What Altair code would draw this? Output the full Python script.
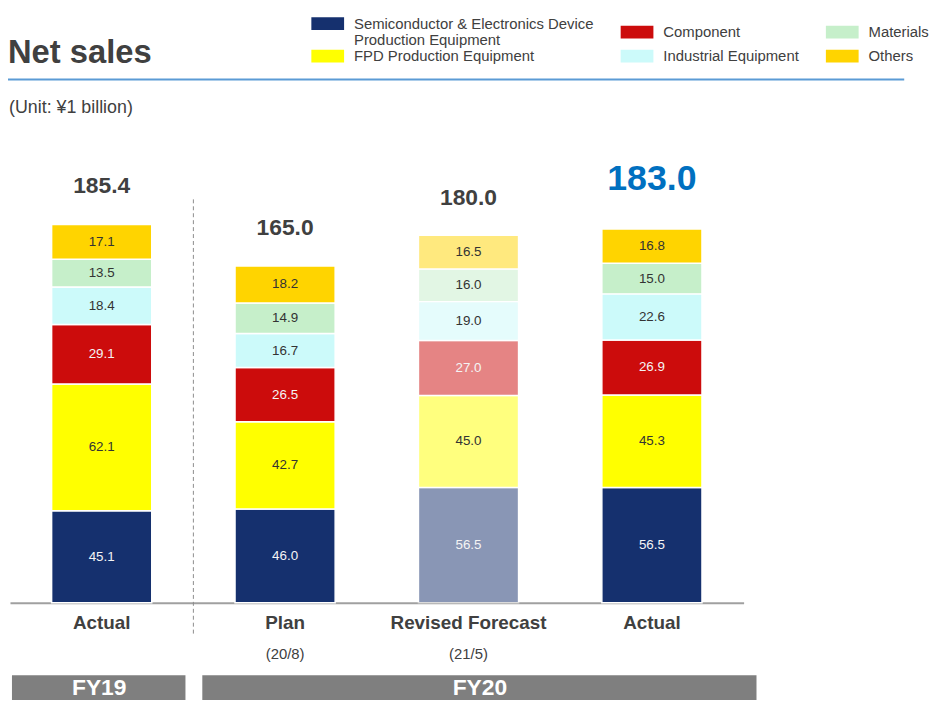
import altair as alt
import pandas as pd

# ---------------- data ----------------
bars = ["FY19 Actual", "FY20 Plan", "FY20 Revised Forecast", "FY20 Actual"]
series = [
    "Semiconductor & Electronics Device Production Equipment",
    "FPD Production Equipment",
    "Component",
    "Industrial Equipment",
    "Materials",
    "Others",
]
semi = [45.1, 46.0, 56.5, 56.5]
fpd = [62.1, 42.7, 45.0, 45.3]
component = [29.1, 26.5, 27.0, 26.9]
industrial = [18.4, 16.7, 19.0, 22.6]
materials = [13.5, 14.9, 16.0, 15.0]
others = [17.1, 18.2, 16.5, 16.8]
totals = [185.4, 165.0, 180.0, 183.0]
total_style = ["grey", "grey", "grey", "blue"]
sublabels = ["", "(20/8)", "(21/5)", ""]
fy_labels = ["FY19", "FY20"]
fy_first_bar = [0, 1]
fy_bar_count = [1, 3]
forecast_bar = "FY20 Revised Forecast"
title_text = "Net sales"
unit_text = "(Unit: ¥1 billion)"

series_colors = ["#15306E", "#FFFF00", "#CC0C0C", "#CCFAFA", "#C6EFCA", "#FFD400"]
white_text_series = [series[0], series[2]]

values = [semi, fpd, component, industrial, materials, others]
rows = []
for si, (s, vals) in enumerate(zip(series, values)):
    for b, v in zip(bars, vals):
        rows.append({"bar": b, "series": s, "idx": si, "value": v})
seg_df = pd.DataFrame(rows)
tot_df = pd.DataFrame({"bar": bars, "total": totals, "style": total_style})
sub_df = pd.DataFrame({"bar": bars, "sub": sublabels})
fy_df = pd.DataFrame({
    "fy": fy_labels,
    "start": fy_first_bar,
    "end": [a + c for a, c in zip(fy_first_bar, fy_bar_count)],
})
div_df = pd.DataFrame({"pos": [fy_first_bar[1]]})

FONT = "Liberation Sans"
DARK = "#404040"

xband = alt.Scale(domain=bars, paddingInner=0.454, paddingOuter=0.227)
ysc = alt.Scale(domain=[0, 200])

base = alt.Chart(seg_df).transform_stack(
    stack="value", groupby=["bar"], as_=["y0", "y1"],
    sort=[alt.SortField("idx", order="ascending")],
).transform_calculate(mid="(datum.y0 + datum.y1) / 2")

bars_layer = base.mark_bar(stroke="white", strokeWidth=1.5).encode(
    x=alt.X("bar:N", scale=xband, sort=bars, title=None,
            axis=alt.Axis(labelExpr="slice(datum.value, 5)", labelAngle=0,
                          labelFontSize=19, labelFontWeight="bold",
                          labelColor=DARK, labelPadding=11, ticks=False,
                          domainColor="#A0A0A0", domainWidth=2, labelFont=FONT)),
    y=alt.Y("y0:Q", scale=ysc, axis=None),
    y2="y1:Q",
    color=alt.Color("series:N",
                    scale=alt.Scale(domain=series, range=series_colors),
                    legend=alt.Legend(
                        title=None, orient="none", legendX=313, legendY=-180,
                        columns=3, columnPadding=26, rowPadding=-3, padding=0,
                        symbolType="M-2.54,-1H2.54V1H-2.54Z", symbolSize=169,
                        symbolStrokeWidth=0, symbolOpacity=1,
                        labelFontSize=15, labelColor=DARK, labelFont=FONT,
                        labelOffset=19, labelLimit=400,
                        labelExpr="datum.label == 'Semiconductor & Electronics Device Production Equipment' ? ['Semiconductor & Electronics Device', 'Production Equipment'] : datum.label",
                    )),
    opacity=alt.condition(alt.datum.bar == forecast_bar, alt.value(0.5), alt.value(1.0)),
)

seg_text = base.mark_text(fontSize=13.5, font=FONT, baseline="middle").encode(
    x=alt.X("bar:N", scale=xband, sort=bars, axis=None),
    y=alt.Y("mid:Q", scale=ysc, axis=None),
    text=alt.Text("value:Q", format=".1f"),
    color=alt.condition(alt.FieldOneOfPredicate(field="series", oneOf=white_text_series),
                        alt.value("#F4F4F4"), alt.value("#333333")),
)

tot_grey = alt.Chart(tot_df).transform_filter(alt.datum.style == "grey").mark_text(
    fontSize=23, fontWeight="bold", font=FONT, color=DARK, baseline="middle", dy=-38
).encode(
    x=alt.X("bar:N", scale=xband, sort=bars, axis=None),
    y=alt.Y("total:Q", scale=ysc, axis=None),
    text=alt.Text("total:Q", format=".1f"),
)
tot_blue = alt.Chart(tot_df).transform_filter(alt.datum.style == "blue").mark_text(
    fontSize=36, fontWeight="bold", font=FONT, color="#0070C0", baseline="middle", dy=-50
).encode(
    x=alt.X("bar:N", scale=xband, sort=bars, axis=None),
    y=alt.Y("total:Q", scale=ysc, axis=None),
    text=alt.Text("total:Q", format=".1f"),
)

sub_text = alt.Chart(sub_df).mark_text(fontSize=15, font=FONT, color=DARK, baseline="middle").encode(
    x=alt.X("bar:N", scale=xband, sort=bars, axis=None),
    y=alt.value(464),
    text="sub:N",
)

fysc = alt.Scale(domain=[0, 4], range=[2, 770])
fy_rect = alt.Chart(fy_df).mark_rect(color="#7F7F7F", x2Offset=-17).encode(
    x=alt.X("start:Q", scale=fysc, axis=None),
    x2="end:Q",
    y=alt.value(485),
    y2=alt.value(510),
)
fy_text = alt.Chart(fy_df).transform_calculate(c="(datum.start + datum.end) / 2").mark_text(
    fontSize=23, fontWeight="bold", font=FONT, color="white", baseline="middle", dx=-8
).encode(
    x=alt.X("c:Q", scale=fysc, axis=None),
    y=alt.value(498),
    text="fy:N",
)

divider = alt.Chart(div_df).mark_rule(color="#8C8C8C", strokeDash=[4, 3], strokeWidth=1).encode(
    x=alt.X("pos:Q", scale=alt.Scale(domain=[0, 4]), axis=None),
    y=alt.value(5),
    y2=alt.value(443),
)

blue_line = alt.Chart(div_df).mark_rule(color="#5B9BD5", strokeWidth=2).encode(
    x=alt.value(-10), x2=alt.value(902), y=alt.value(-116),
)

title_mark = alt.Chart(div_df).mark_text(
    text=title_text, align="left", baseline="alphabetic", fontSize=33,
    fontWeight="bold", font=FONT, color=DARK,
).encode(x=alt.value(-2), y=alt.value(-133))

unit_mark = alt.Chart(div_df).mark_text(
    text=unit_text, align="left", baseline="alphabetic", fontSize=18,
    font=FONT, color=DARK,
).encode(x=alt.value(-1), y=alt.value(-82))

chart = alt.layer(
    fy_rect, fy_text, divider, blue_line, title_mark, unit_mark,
    bars_layer, seg_text, tot_grey, tot_blue, sub_text
).resolve_scale(x="independent").properties(
    width=740, height=412, autosize="none",
    padding={"left": 2, "top": 185, "right": 187, "bottom": 101},
).configure(
    font=FONT,
    view=alt.ViewConfig(strokeWidth=0, stroke="transparent"),
)

chart.save("out.html", embed_options={"renderer": "svg", "actions": False})
